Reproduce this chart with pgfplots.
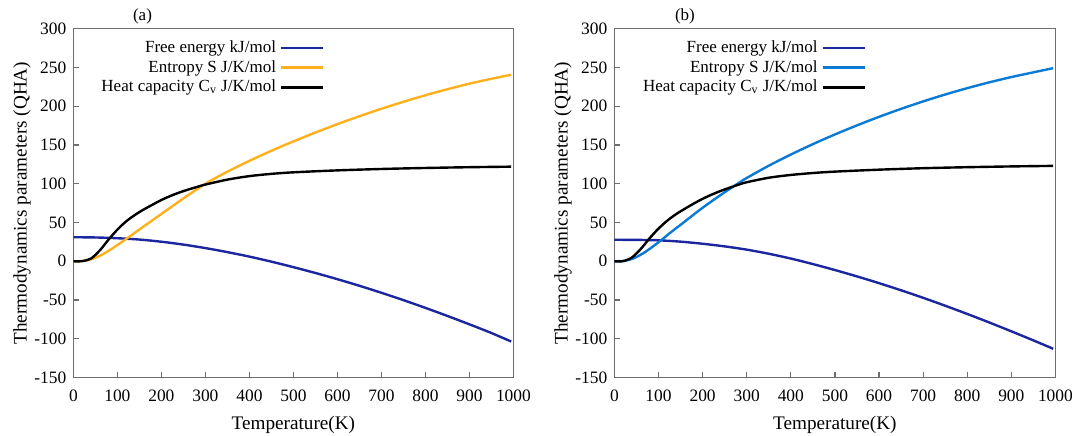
\documentclass[border=0pt]{standalone}
\usepackage{fontspec}
\setmainfont{Liberation Serif}
\usepackage{pgfplots}
\pgfplotsset{compat=1.18}
\definecolor{cFree}{RGB}{28,38,158}
\definecolor{cEntA}{RGB}{255,176,28}
\definecolor{cEntB}{RGB}{10,122,212}
\definecolor{cFrame}{RGB}{110,110,110}
\tikzset{paneltag/.style={anchor=south, inner sep=1pt, yshift=1pt, font=\fontsize{8.5}{10}\selectfont}}
\pgfplotsset{
  qha/.style={
    scale only axis, width=220pt, height=174.5pt,
    xmin=0, xmax=1000, ymin=-150, ymax=300,
    clip mode=individual,
    xtick={0,100,...,1000}, ytick={-150,-100,...,300},
    axis line style={cFrame, line width=0.7pt},
    tick style={cFrame, line width=0.6pt},
    tick align=inside, major tick length=3pt,
    xtick pos=bottom, ytick pos=left,
    /pgf/number format/assume math mode=true,
    /pgf/number format/set thousands separator={},
    tick label style={font=\fontsize{8.7}{10}\selectfont},
    xticklabel style={yshift=-2.5pt},
    label style={font=\fontsize{9.6}{11}\selectfont},
    xlabel={Temperature(K)},
    ylabel={Thermodynamics parameters (QHA)},
    xlabel style={yshift=-0.5pt},
    ylabel style={yshift=-5pt},
    legend plot pos=right, legend cell align=right,
    legend style={draw=none, fill=none, font=\fontsize{8.5}{10}\selectfont,
      at={(rel axis cs:0.585,0.99)}, anchor=north east, row sep=-1.5pt},
    legend image code/.code={\draw[#1] (0pt,0pt) -- (21pt,0pt);},
    every axis plot/.append style={line width=1.2pt, smooth, tension=0.5},
  },
}
\begin{document}
\begin{tikzpicture}
\useasboundingbox (-36.7pt,-28.7pt) rectangle (501.8pt,188.8pt);
\begin{axis}[qha]
\addplot[cFree] coordinates {
  (0,31) (50,30.7) (100,29.7) (150,28) (200,25.2) (250,21.5) (300,17) (350,11.8)
  (400,6) (450,-0.5) (500,-7.6) (550,-15.1) (600,-23.1) (650,-31.6) (700,-40.6)
  (750,-50.1) (800,-60.1) (850,-70.5) (900,-81.3) (950,-92.5) (995,-103.5)};
\addlegendentry{Free energy kJ/mol}
\addplot[cEntA] coordinates {
  (0,0) (20,0.3) (40,2.5) (60,7) (80,13.5) (100,21) (123,30) (150,41) (175,51)
  (200,61) (250,81) (300,100) (350,115.5) (400,129.5) (450,142.5) (500,154.5)
  (550,166) (600,176.8) (650,187) (700,196.6) (750,205.6) (800,214)
  (850,221.8) (900,229) (950,235.3) (995,240.5)};
\addlegendentry{Entropy S J/K/mol}
\addplot[black] coordinates {
  (0,0) (20,0.2) (40,3.5) (60,14) (80,28) (100,40.9) (120,51.5) (140,59.8)
  (160,66.8) (180,73) (200,79) (220,84.1) (240,88.5) (260,92.3) (280,95.7)
  (300,98.9) (350,105.3) (400,109.8) (450,112.7) (500,114.7) (600,117.2)
  (700,119) (800,120.3) (900,121.3) (995,122)};
\addlegendentry{Heat capacity C\textsubscript{v} J/K/mol}
\node[paneltag] at (rel axis cs:0.157,1) {(a)};
\end{axis}
\begin{axis}[qha, at={(270.5pt,0pt)}, width=220.5pt]
\addplot[cFree] coordinates {
  (0,27.7) (50,27.6) (100,27) (150,25.3) (200,22.6) (250,19.2) (300,15) (350,9.7)
  (400,3.5) (450,-3.6) (500,-11.3) (550,-19.5) (600,-28.2) (650,-37.4)
  (700,-47.1) (750,-57.3) (800,-67.9) (850,-78.9) (900,-90.3) (950,-102) (995,-112.8)};
\addlegendentry{Free energy kJ/mol}
\addplot[cEntB] coordinates {
  (0,0) (20,0.4) (40,3) (60,8.5) (80,16) (100,24.5) (108,28) (125,36) (150,47)
  (200,69) (250,89) (282,101) (300,107.4) (350,123.2) (400,137.6) (450,151)
  (500,163.5) (550,175.2) (600,186.2) (650,196.5) (700,206.1) (750,215)
  (800,223.2) (850,230.7) (900,237.5) (950,243.6) (995,249)};
\addlegendentry{Entropy S J/K/mol}
\addplot[black] coordinates {
  (0,0) (20,0.2) (40,5) (60,16) (80,29.8) (100,42.1) (120,52.4) (140,60.8)
  (160,67.8) (180,74.4) (200,80.5) (220,85.8) (240,90.5) (260,94.6) (280,98.5)
  (300,101.9) (350,107.7) (400,111.3) (450,113.8) (500,115.6) (600,118.1)
  (700,120) (800,121.3) (900,122.3) (995,123)};
\addlegendentry{Heat capacity C\textsubscript{v} J/K/mol}
\node[paneltag] at (rel axis cs:0.16,1) {(b)};
\end{axis}
\end{tikzpicture}
\end{document}
